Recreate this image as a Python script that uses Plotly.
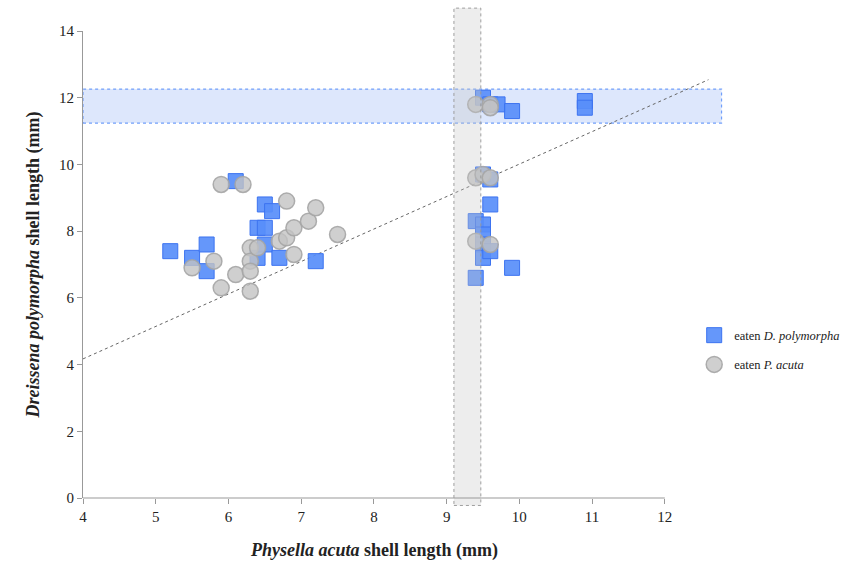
import plotly.graph_objects as go

# Eaten Dreissena polymorpha (blue squares)
dp_x = [5.2, 5.5, 5.7, 5.7, 6.1, 6.4, 6.5, 6.4, 6.5, 6.5, 6.6, 6.7, 7.2,
        9.5, 9.6, 9.7, 9.9, 10.9, 10.9,
        9.5, 9.6, 9.6,
        9.4, 9.5, 9.5, 9.5, 9.5, 9.6, 9.9, 9.4]
dp_y = [7.4, 7.2, 7.6, 6.8, 9.5, 8.1, 8.1, 7.2, 7.6, 8.8, 8.6, 7.2, 7.1,
        12.0, 11.8, 11.8, 11.6, 11.9, 11.7,
        9.7, 9.55, 8.8,
        8.3, 8.2, 7.9, 7.6, 7.2, 7.4, 6.9, 6.6]

# Eaten Physella acuta (grey circles)
pa_x = [5.5, 5.8, 5.9, 5.9, 6.1, 6.2, 6.3, 6.3, 6.3, 6.3, 6.4, 6.7, 6.8, 6.8,
        6.9, 6.9, 7.1, 7.2, 7.5,
        9.4, 9.6, 9.6, 9.4, 9.5, 9.6, 9.4, 9.6]
pa_y = [6.9, 7.1, 6.3, 9.4, 6.7, 9.4, 7.5, 7.1, 6.8, 6.2, 7.5, 7.7, 7.8, 8.9,
        8.1, 7.3, 8.3, 8.7, 7.9,
        11.8, 11.8, 11.7, 9.6, 9.7, 9.6, 7.7, 7.6]

# Trend line end points
trend_x = [4.0, 12.6]
trend_y = [4.17, 12.54]

# Highlight bands
band_x = [9.1, 9.47]      # P. acuta size band (vertical)
band_y = [11.24, 12.26]   # D. polymorpha size band (horizontal)
band_x_end = 12.78

x_ticks = [4, 5, 6, 7, 8, 9, 10, 11, 12]
y_ticks = [0, 2, 4, 6, 8, 10, 12, 14]

FONT = "Liberation Serif"

fig = go.Figure()

fig.add_trace(go.Scatter(
    x=trend_x, y=trend_y, mode="lines",
    line=dict(color="#666666", width=1, dash="dot"),
    showlegend=False, hoverinfo="skip"))

fig.add_trace(go.Scatter(
    x=dp_x, y=dp_y, mode="markers", name="eaten <i>D. polymorpha</i>",
    legendgroup="dp",
    marker=dict(symbol="square", size=15, color="rgba(88,142,250,0.92)",
                line=dict(color="rgba(60,115,240,1)", width=1))))

fig.add_trace(go.Scatter(
    x=pa_x, y=pa_y, mode="markers", name="eaten <i>P. acuta</i>",
    legendgroup="pa",
    marker=dict(symbol="circle", size=16, color="rgba(195,195,195,0.8)",
                line=dict(color="rgba(165,165,165,0.9)", width=1.5))))

shapes = [
    # horizontal blue band
    dict(type="rect", xref="x", yref="y", x0=x_ticks[0], x1=band_x_end,
         y0=band_y[0], y1=band_y[1], fillcolor="rgba(120,160,245,0.25)",
         line=dict(color="rgba(100,150,250,0.9)", width=1.2, dash="dot"),
         layer="below"),
    # vertical grey band (above markers)
    dict(type="rect", xref="x", yref="paper", x0=band_x[0], x1=band_x[1],
         y0=-0.016, y1=1.049, fillcolor="rgba(200,200,200,0.32)",
         line=dict(color="rgba(150,150,150,0.9)", width=1, dash="dot"),
         layer="above"),
    # x axis line from 4 to 12
    dict(type="line", xref="x", yref="paper", x0=x_ticks[0], x1=x_ticks[-1],
         y0=0, y1=0, line=dict(color="#999999", width=1)),
]

fig.update_layout(
    width=842, height=569,
    margin=dict(l=83, r=119, t=31, b=71, autoexpand=False),
    paper_bgcolor="white", plot_bgcolor="white",
    font=dict(family=FONT, color="#222222"),
    shapes=shapes,
    showlegend=True,
    legend=dict(x=0.955, y=0.38, xanchor="left", yanchor="top",
                font=dict(family=FONT, size=12.5, color="#222222"),
                bgcolor="rgba(0,0,0,0)", traceorder="grouped",
                tracegroupgap=10, itemwidth=30),
    annotations=[dict(
        text="<b><i>Physella acuta</i> shell length (mm)</b>",
        xref="x", yref="paper", x=8, y=0, yshift=-52, showarrow=False,
        xanchor="center", yanchor="middle",
        font=dict(family=FONT, size=18, color="#222222"))],
)

fig.update_xaxes(
    range=[4, band_x_end + 0.02], tickvals=x_ticks, showgrid=False,
    zeroline=False, showline=False, ticks="outside", ticklen=5,
    tickcolor="#999999", tickfont=dict(family=FONT, size=15, color="#222222"))

fig.update_yaxes(
    range=[0, 14], tickvals=y_ticks, showgrid=False, zeroline=False,
    showline=True, linecolor="#999999", linewidth=1, ticks="outside",
    ticklen=5, tickcolor="#999999",
    tickfont=dict(family=FONT, size=15, color="#222222"),
    title=dict(text="<b><i>Dreissena polymorpha</i> shell length (mm)</b>",
               font=dict(family=FONT, size=18, color="#222222"), standoff=14))

fig.write_html("out.html")
